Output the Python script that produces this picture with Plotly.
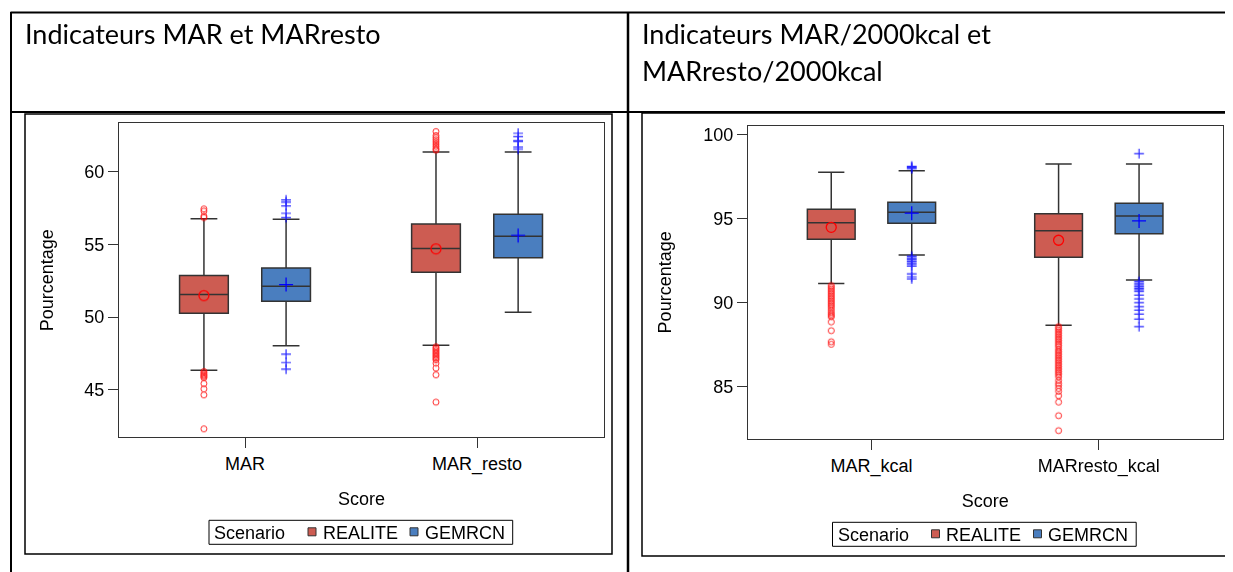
import plotly.graph_objects as go

# ---------------- data ----------------
scenarios = ["REALITE", "GEMRCN"]
legend_title = "Scenario"
x_title = "Score"
y_title = "Pourcentage"
left_categories = ["MAR", "MAR_resto"]
right_categories = ["MAR_kcal", "MARresto_kcal"]
left_title = "Indicateurs MAR et MARresto"
right_title_lines = ["Indicateurs MAR/2000kcal et", "MARresto/2000kcal"]
left_yticks = [45, 50, 55, 60]
right_yticks = [85, 90, 95, 100]

# left panel (MAR, MAR_resto)
left_realite_lower = [46.34, 48.06]
left_realite_q1 = [50.27, 53.09]
left_realite_median = [51.55, 54.72]
left_realite_q3 = [52.86, 56.42]
left_realite_upper = [56.78, 61.38]
left_realite_mean = [51.48, 54.70]
left_realite_outliers = [
    [57.45, 57.30, 56.95, 56.85, 46.25, 46.15, 46.05, 45.98, 45.90, 45.82, 45.42, 45.05, 44.64, 42.30],
    [62.78, 62.50, 62.35, 62.20, 62.05, 61.90, 61.75, 61.60, 61.50,
     47.95, 47.85, 47.75, 47.65, 47.55, 47.45, 47.35, 47.25, 47.15, 47.05, 46.82, 46.48, 46.02, 44.14],
]
left_gemrcn_lower = [48.02, 50.34]
left_gemrcn_q1 = [51.10, 54.08]
left_gemrcn_median = [52.13, 55.57]
left_gemrcn_q3 = [53.39, 57.09]
left_gemrcn_upper = [56.74, 61.38]
left_gemrcn_mean = [52.24, 55.62]
left_gemrcn_outliers = [
    [58.07, 57.91, 57.66, 57.15, 56.85, 47.44, 46.87, 46.41],
    [62.66, 62.43, 62.16, 62.10, 61.70, 61.56],
]

# right panel (MAR_kcal, MARresto_kcal)
right_realite_lower = [91.11, 88.63]
right_realite_q1 = [93.75, 92.68]
right_realite_median = [94.74, 94.26]
right_realite_q3 = [95.54, 95.27]
right_realite_upper = [97.74, 98.23]
right_realite_mean = [94.46, 93.69]
right_realite_outliers = [
    [91.00, 90.90, 90.80, 90.70, 90.60, 90.50, 90.40, 90.30, 90.20, 90.10, 90.00, 89.90, 89.80,
     89.70, 89.55, 89.40, 89.30, 89.20, 89.14, 88.83, 88.31, 87.65, 87.50],
    [88.55, 88.45, 88.35, 88.25, 88.15, 88.05, 87.95, 87.85, 87.75, 87.65, 87.55, 87.45, 87.35,
     87.20, 87.10, 87.00, 86.90, 86.80, 86.70, 86.60, 86.50, 86.40, 86.30, 86.20, 86.10, 86.00,
     85.90, 85.80, 85.70, 85.57, 85.35, 85.18, 85.05, 84.88, 84.70, 84.44, 84.06, 83.25, 82.36],
]
right_gemrcn_lower = [92.82, 91.33]
right_gemrcn_q1 = [94.70, 94.08]
right_gemrcn_median = [95.36, 95.14]
right_gemrcn_q3 = [95.95, 95.89]
right_gemrcn_upper = [97.83, 98.23]
right_gemrcn_mean = [95.30, 94.84]
right_gemrcn_outliers = [
    [98.10, 98.05, 98.00, 97.95, 92.75, 92.65, 92.55, 92.45, 92.35, 92.25, 92.15, 91.69, 91.52, 91.39],
    [98.85, 91.25, 91.15, 91.05, 90.95, 90.85, 90.75, 90.65, 90.43, 90.20, 89.98, 89.74, 89.54,
     89.30, 89.00, 88.55],
]

# ---------------- style ----------------
PAGE_W, PAGE_H = 1233, 572
BODY = 8                      # default page margin around the plot div
W, H = PAGE_W - BODY, PAGE_H - BODY
FONT = "Liberation Sans, Arial, sans-serif"
HFONT = "Lato, Carlito, Calibri, sans-serif"
FILL = {"REALITE": "#CD5C52", "GEMRCN": "#4A7EBF"}
PT = {"REALITE": "#FF0000", "GEMRCN": "#0000FF"}
OFFSET = {"REALITE": -0.177, "GEMRCN": 0.177}
BOXW = 0.21
EDGE = "#333333"


def px(x):
    return (x - BODY) / W


def py(y):
    return 1 - (y - BODY) / H


fig = go.Figure()

panels = [
    dict(xa="x", ya="y", cats=left_categories,
         stats={"REALITE": (left_realite_lower, left_realite_q1, left_realite_median, left_realite_q3,
                            left_realite_upper, left_realite_mean, left_realite_outliers),
                "GEMRCN": (left_gemrcn_lower, left_gemrcn_q1, left_gemrcn_median, left_gemrcn_q3,
                           left_gemrcn_upper, left_gemrcn_mean, left_gemrcn_outliers)}),
    dict(xa="x2", ya="y2", cats=right_categories,
         stats={"REALITE": (right_realite_lower, right_realite_q1, right_realite_median, right_realite_q3,
                            right_realite_upper, right_realite_mean, right_realite_outliers),
                "GEMRCN": (right_gemrcn_lower, right_gemrcn_q1, right_gemrcn_median, right_gemrcn_q3,
                           right_gemrcn_upper, right_gemrcn_mean, right_gemrcn_outliers)}),
]

for p in panels:
    idx = list(range(len(p["cats"])))
    for s in scenarios:
        lo, q1, med, q3, up, mean, outl = p["stats"][s]
        xs = [i + OFFSET[s] for i in idx]
        fig.add_trace(go.Box(
            x=xs, q1=q1, median=med, q3=q3, lowerfence=lo, upperfence=up,
            name=s, width=BOXW, whiskerwidth=0.55, fillcolor=FILL[s],
            line=dict(color=EDGE, width=1.5), boxpoints=False, showlegend=False,
            xaxis=p["xa"], yaxis=p["ya"], hoverinfo="skip",
        ))
        ox, oy = [], []
        for i, vals in zip(idx, outl):
            ox += [i + OFFSET[s]] * len(vals)
            oy += vals
        if s == "REALITE":
            mk = dict(symbol="circle-open", size=6, color=PT[s], line=dict(width=1, color=PT[s]))
            mm = dict(symbol="circle-open", size=10, color=PT[s], line=dict(width=1.3, color=PT[s]))
        else:
            mk = dict(symbol="cross-thin-open", size=7, color=PT[s], line=dict(width=1.2, color=PT[s]))
            mm = dict(symbol="cross-thin-open", size=10, color=PT[s], line=dict(width=1.3, color=PT[s]))
        fig.add_trace(go.Scatter(x=ox, y=oy, mode="markers", marker=mk, showlegend=False,
                                 xaxis=p["xa"], yaxis=p["ya"], hoverinfo="skip", opacity=0.85))
        fig.add_trace(go.Scatter(x=xs, y=mean, mode="markers", marker=mm, showlegend=False,
                                 xaxis=p["xa"], yaxis=p["ya"], hoverinfo="skip"))

axis_common = dict(showline=True, mirror=True, linecolor=EDGE, linewidth=1,
                   showgrid=False, zeroline=False, ticks="outside", ticklen=10,
                   tickcolor=EDGE, tickfont=dict(family=FONT, size=18, color="#000"))
xtitle = dict(text=x_title, font=dict(family=FONT, size=18, color="#000"), standoff=18)
ytitle = dict(text=y_title, font=dict(family=FONT, size=18, color="#000"), standoff=26)

fig.update_layout(
    width=W, height=H, margin=dict(l=0, r=0, t=0, b=0),
    paper_bgcolor="white", plot_bgcolor="white",
    font=dict(family=FONT, size=18, color="#000"),
    showlegend=False,
    xaxis=dict(domain=[px(119), px(604)], range=[-0.543, 1.547], tickvals=[0, 1],
               ticktext=left_categories, anchor="y", title=xtitle, **axis_common),
    yaxis=dict(domain=[py(437.3), py(123.3)], range=[41.72, 63.35], tickvals=left_yticks, anchor="x",
               title=ytitle, ticklabelstandoff=0, **axis_common),
    xaxis2=dict(domain=[px(747.8), px(1222.5)], range=[-0.544, 1.544], tickvals=[0, 1],
                ticktext=right_categories, anchor="y2", title=xtitle, **axis_common),
    yaxis2=dict(domain=[py(439), py(125.7)], range=[81.86, 100.51], tickvals=right_yticks, anchor="x2",
                title=ytitle, ticklabelstandoff=0, **axis_common),
)

shapes = []


def line(x0, y0, x1, y1, w=1.5):
    shapes.append(dict(type="line", xref="paper", yref="paper", x0=px(x0), y0=py(y0), x1=px(x1), y1=py(y1),
                       line=dict(color="#000", width=w)))


def rect(x0, y0, x1, y1, w=1.0, fill=None, color="#000"):
    d = dict(type="rect", xref="paper", yref="paper", x0=px(x0), y0=py(y1), x1=px(x1), y1=py(y0),
             line=dict(color=color, width=w))
    if fill:
        d["fillcolor"] = fill
    shapes.append(d)


# table lines and picture frames
line(10.5, 12.5, PAGE_W, 12.5, 2)
line(11, 12, 11, PAGE_H, 2)
line(11, 112, PAGE_W, 112, 2)
line(628, 12, 628, PAGE_H, 2.5)
rect(25, 114, 612, 554, 1.5)
rect(642, 113, 1232, 556, 1.5)


def text(t, x, y, size=18, family=FONT, anchor="left"):
    fig.add_annotation(text=t, xref="paper", yref="paper", x=px(x), y=py(y), xanchor=anchor,
                       yanchor="middle", showarrow=False, borderpad=0,
                       font=dict(family=family, size=size, color="#000"))


# legends (SAS style compact legend box)
def legend(x0, y0):
    rect(x0, y0, x0 + 303.7, y0 + 24, 1)
    text(legend_title, x0 + 4, y0 + 12.5)
    key_x = [x0 + 99, x0 + 201]
    for s, kx in zip(scenarios, key_x):
        rect(kx, y0 + 7.5, kx + 8, y0 + 15.5, 1, FILL[s], EDGE)
        text(s, kx + 13.5, y0 + 12.5)


legend(209, 520.3)
legend(832.5, 522.3)

# header texts
text(left_title, 24, 33, 27, HFONT)
text(right_title_lines[0], 641, 33, 27, HFONT)
text(right_title_lines[1], 641, 71, 27, HFONT)

fig.update_layout(shapes=shapes)
fig.write_html("out.html")
